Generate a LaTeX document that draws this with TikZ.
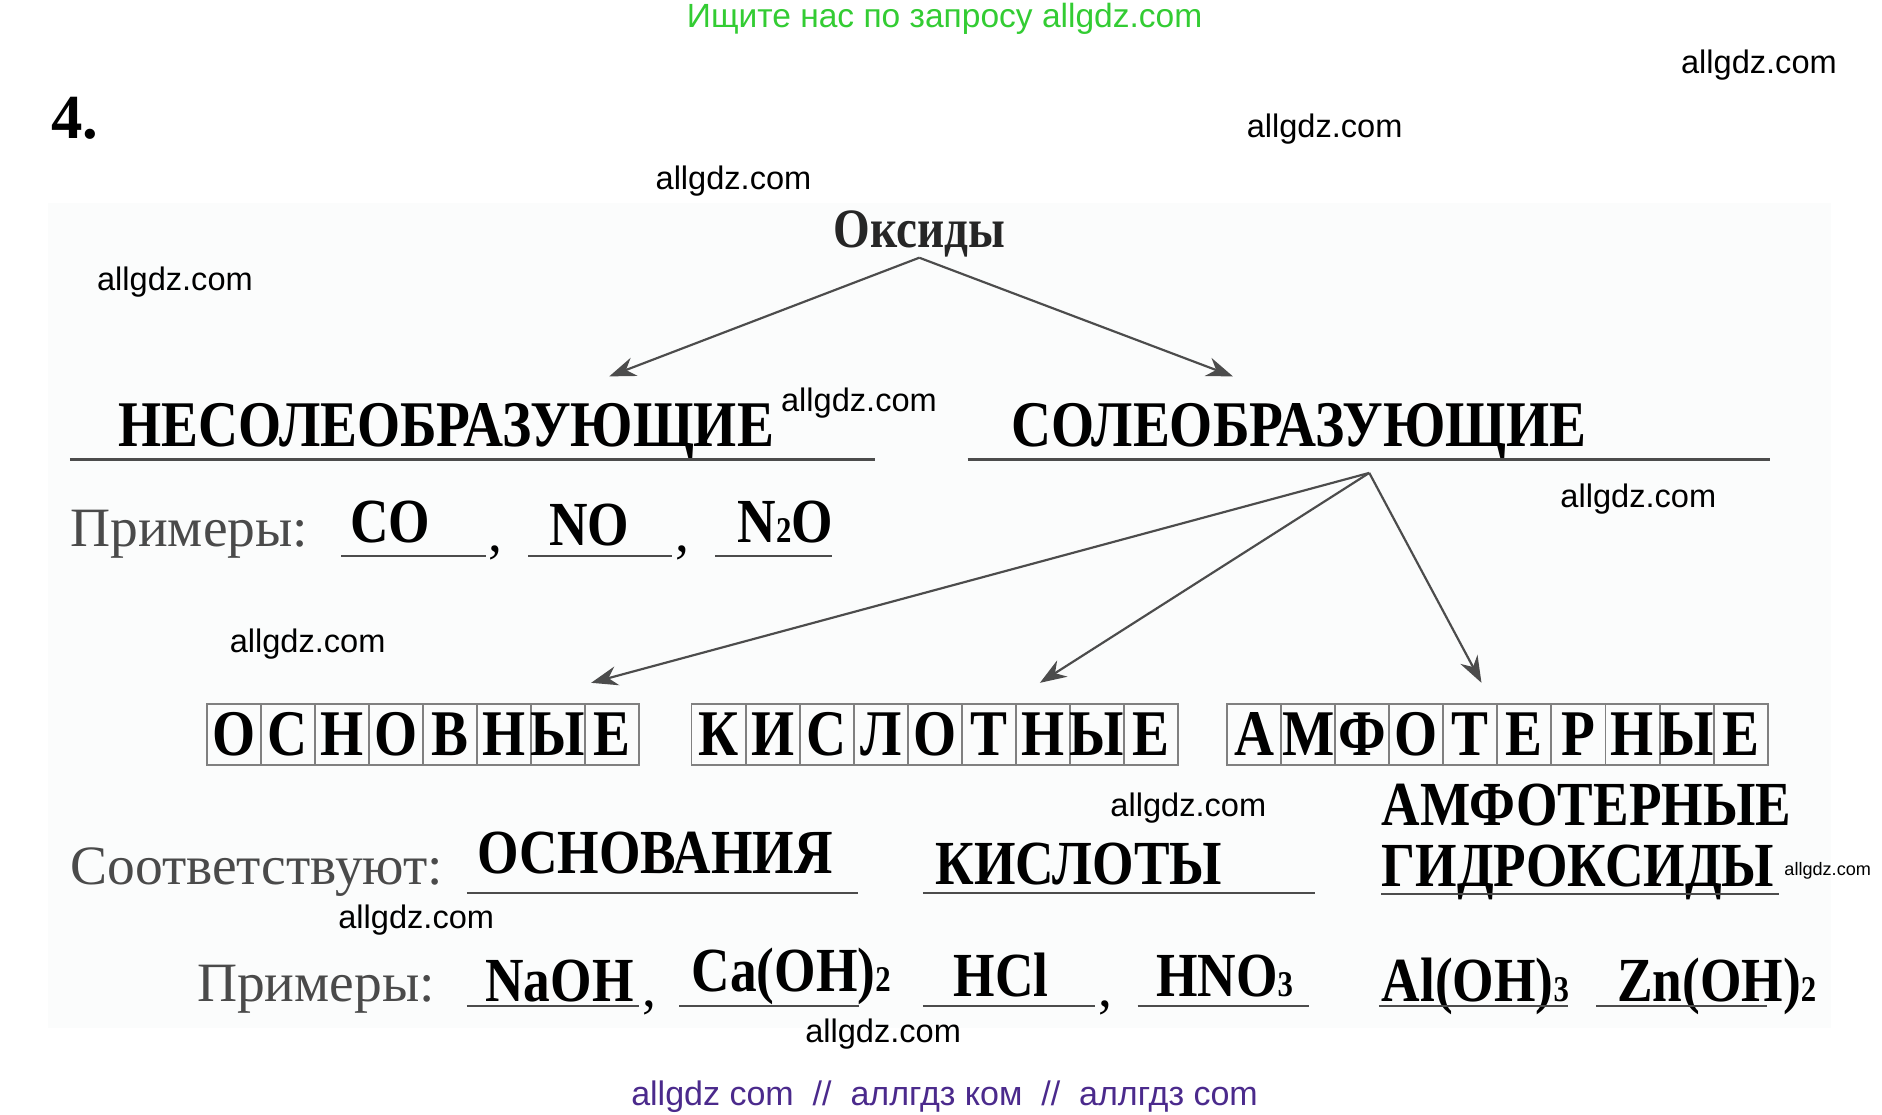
\documentclass[tikz,border=0pt]{standalone}
\usepackage{fontspec}
\setmainfont{Liberation Serif}
\newfontfamily\bsfont[FakeStretch=0.85]{Liberation Serif}
\newfontfamily\wmfont{Liberation Sans}
\usetikzlibrary{arrows.meta,matrix,positioning}
\definecolor{inkgray}{HTML}{4A4A4A}
\definecolor{rulegray}{HTML}{4C4C4C}
\definecolor{boxgray}{HTML}{808080}
\definecolor{wmgreen}{HTML}{33CC33}
\definecolor{wmpurple}{HTML}{4B2A8C}
\definecolor{pagetint}{HTML}{FBFCFC}
\newcommand{\idx}[1]{{\fontsize{15}{15}\selectfont #1}}

\begin{document}
\begin{tikzpicture}[
    x=0.5pt, y=-0.5pt,
    wm/.style={font=\wmfont\fontsize{13.5}{15}\selectfont, inner sep=0},
    hd/.style={font=\bsfont\bfseries\fontsize{27}{30}\selectfont, text=black, inner sep=0},
    ans/.style={font=\bsfont\bfseries\fontsize{26}{28}\selectfont, text=black, inner sep=0},
    lbl/.style={font=\fontsize{23}{26}\selectfont, text=inkgray, inner sep=0},
    fillin/.style={draw=rulegray, line width=1pt},
    link/.style={draw=rulegray, line width=0.9pt, -{Stealth[length=11pt,width=8pt]}},
    letters/.style={
        matrix of nodes,
        ampersand replacement=\&,
        inner sep=0,
        column sep=-0.8pt,
        nodes={draw=boxgray, line width=0.8pt, minimum width=22.4pt, minimum height=25.5pt,
               inner sep=0, font=\bsfont\bfseries\fontsize{27}{30}\selectfont, text=black}}
]
\useasboundingbox (0,0) rectangle (1560,924);
\fill[pagetint] (40,168) rectangle (1518,852);

% watermarks
\node[wm, text=wmgreen, font=\wmfont\fontsize{13.9}{15}\selectfont] (wmtop) at (783,16) {Ищите нас по запросу allgdz.com};
\node[wm, text=wmpurple, font=\wmfont\fontsize{14.1}{15}\selectfont] (wmbot) at (783,909) {allgdz com \ // \ аллгдз ком \ // \ аллгдз com};
\node[wm] (wm1) at (1458,54) {allgdz.com};
\node[wm] (wm2) at (1098,107) {allgdz.com};
\node[wm] (wm3) at (608,150) {allgdz.com};
\node[wm] (wm4) at (145,234) {allgdz.com};
\node[wm] (wm5) at (712,334) {allgdz.com};
\node[wm] (wm6) at (1358,414) {allgdz.com};
\node[wm] (wm7) at (255,534) {allgdz.com};
\node[wm] (wm8) at (985,670) {allgdz.com};
\node[wm, font=\wmfont\fontsize{7.5}{9}\selectfont] (wm9) at (1515,722) {allgdz.com};
\node[wm] (wm10) at (345,763) {allgdz.com};
\node[wm] (wm11) at (732,857) {allgdz.com};

% task number and root
\node[inner sep=0, anchor=base west, font=\bfseries\fontsize{26}{28}\selectfont] (num) at (42,115) {4.};
\node[hd, text=black!85, font=\bsfont\bfseries\fontsize{23}{26}\selectfont] (oks) at (762,194) {Оксиды};

% first level
\node[hd, anchor=base west] (nes) at (98,370) {НЕСОЛЕОБРАЗУЮЩИЕ};
\node[hd, anchor=base west] (sol) at (838,370) {СОЛЕОБРАЗУЮЩИЕ};
\draw[fillin] (58,381) -- (725,381);
\draw[fillin] (802,381) -- (1467,381);

\coordinate (nesin) at (505,312);
\coordinate (solin) at (1022,312);
\draw[link] (oks.south) -- (nesin);
\draw[link] (oks.south) -- (solin);

% examples of non-salt-forming
\node[lbl, anchor=base west] (ex1) at (58,453) {Примеры:};
\node[ans, anchor=base west] (co) at (290,450) {CO};
\node[ans, anchor=base west] (no) at (455,452) {NO};
\node[ans, anchor=base west] (ntwoo) at (611,450) {N\idx{2}O};
\node[lbl, text=black, anchor=base] (cm1) at (411,457) {,};
\node[lbl, text=black, anchor=base] (cm2) at (566,457) {,};
\draw[fillin] (283,461) -- (403,461);
\draw[fillin] (438,461) -- (557,461);
\draw[fillin] (593,461) -- (690,461);

% letter boxes
\matrix (osn) [letters, anchor=north west] at (170,582) {
 О \& С \& Н \& О \& В \& Н \& Ы \& Е \\
};
\matrix (kis) [letters, anchor=north west] at (572,582) {
 К \& И \& С \& Л \& О \& Т \& Н \& Ы \& Е \\
};
\matrix (amf) [letters, anchor=north west] at (1016,582) {
 А \& М \& Ф \& О \& Т \& Е \& Р \& Н \& Ы \& Е \\
};

\coordinate (solfoot) at (1135,392);
\coordinate (osnin) at (490,566);
\coordinate (kisin) at (862,566);
\coordinate (amfin) at (1228,566);
\draw[link] (solfoot) -- (osnin);
\draw[link] (solfoot) -- (kisin);
\draw[link] (solfoot) -- (amfin);

% corresponding classes
\node[lbl, anchor=base west] (corr) at (58,733) {Соответствуют:};
\node[ans, anchor=base west] (bases) at (395,724) {ОСНОВАНИЯ};
\node[ans, anchor=base west] (acids) at (775,733) {КИСЛОТЫ};
\node[ans, anchor=base west] (amph1) at (1145,684) {АМФОТЕРНЫЕ};
\node[ans, anchor=base west] (amph2) at (1145,735) {ГИДРОКСИДЫ};
\draw[fillin] (387,740) -- (711,740);
\draw[fillin] (765,740) -- (1090,740);
\draw[fillin] (1145,741) -- (1475,741);

% examples of compounds
\node[lbl, anchor=base west] (ex2) at (163,830) {Примеры:};
\node[ans, anchor=base west] (naoh) at (402,830) {NaOH};
\node[lbl, text=black, anchor=base] (cm3) at (538,834) {,};
\node[ans, anchor=base west] (caoh) at (573,822) {Ca(OH)\idx{2}};
\node[ans, anchor=base west] (hcl) at (790,826) {HCl};
\node[lbl, text=black, anchor=base] (cm4) at (916,834) {,};
\node[ans, anchor=base west] (hno) at (958,826) {HNO\idx{3}};
\node[ans, anchor=base west] (aloh) at (1145,830) {Al(OH)\idx{3}};
\node[ans, anchor=base west] (znoh) at (1340,830) {Zn(OH)\idx{2}};
\draw[fillin] (387,834) -- (530,834);
\draw[fillin] (563,834) -- (712,834);
\draw[fillin] (765,834) -- (908,834);
\draw[fillin] (943,834) -- (1085,834);
\draw[fillin] (1143,834) -- (1300,834);
\draw[fillin] (1323,834) -- (1465,834);

\end{tikzpicture}
\end{document}
